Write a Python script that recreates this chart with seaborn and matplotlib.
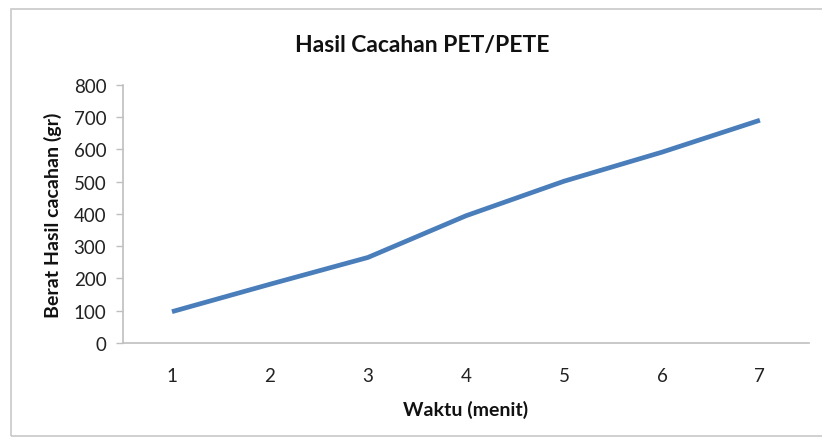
import matplotlib
matplotlib.use("Agg")
import matplotlib.pyplot as plt
import seaborn as sns
import pandas as pd
from matplotlib.patches import Rectangle

waktu = [1, 2, 3, 4, 5, 6, 7]
berat = [97, 182, 265, 394, 501, 591, 690]
y_ticks = [0, 100, 200, 300, 400, 500, 600, 700, 800]

df = pd.DataFrame({"Waktu": waktu, "Berat": berat})

sns.set_theme(style="white")
plt.rcParams["font.family"] = ["Lato", "DejaVu Sans"]

fig = plt.figure(figsize=(8.22, 4.39), dpi=100)
ax = fig.add_axes([0.1496, 0.2164, 0.8345, 0.5884])

sns.lineplot(data=df, x="Waktu", y="Berat", ax=ax, color="#4a7ebb",
             linewidth=3.4, solid_capstyle="butt")

ax.set_xlim(0.5, 7.5)
ax.set_ylim(0, 800)
ax.set_xticks(waktu)
ax.set_yticks(y_ticks)
ax.tick_params(axis="x", length=0, labelsize=13.5, pad=17, colors="#222222")
ax.tick_params(axis="y", length=5, width=1, color="#bfbfbf", direction="out",
               labelsize=13.5, pad=7, colors="#222222", left=True)
for s in ["top", "right"]:
    ax.spines[s].set_visible(False)
for s in ["left", "bottom"]:
    ax.spines[s].set_color("#bfbfbf")
    ax.spines[s].set_linewidth(1.2)
ax.grid(False)

ax.set_xlabel("Waktu (menit)", fontsize=14, fontweight="bold", labelpad=12, color="#111111")
ax.set_ylabel("Berat Hasil cacahan (gr)", fontsize=14, fontweight="bold", labelpad=8, color="#111111")
fig.text(0.514, 0.897, "Hasil Cacahan PET/PETE", ha="center", va="center",
         fontsize=16.5, fontweight="bold", color="#111111")

fig.patches.append(Rectangle((11 / 822, 2 / 439), 1.2, 1 - 12 / 439,
                             transform=fig.transFigure, fill=False,
                             edgecolor="#c8c8c8", linewidth=1.2))

fig.savefig("out.png", dpi=100, facecolor="white")
